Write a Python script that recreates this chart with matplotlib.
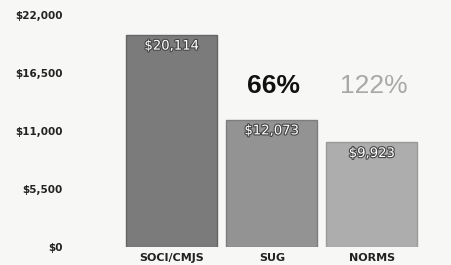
import matplotlib.pyplot as plt
import matplotlib.patheffects as pe
from matplotlib.ticker import FixedLocator, FuncFormatter
import matplotlib.transforms as mtransforms

# data
categories = ['SOCI/CMJS', 'SUG', 'NORMS']
values = [20114, 12073, 9923]
pct_labels = ['', '66%', '122%']
y_ticks = [0, 5500, 11000, 16500, 22000]

bar_colors = ['#7b7b7b', '#939393', '#adadad']
edge_colors = ['#666666', '#7d7d7d', '#999999']
pct_colors = ['#111111', '#111111', '#a8a8a8']
pct_weights = ['bold', 'bold', 'normal']

fig = plt.figure(figsize=(4.52, 2.65), dpi=100)
fig.patch.set_facecolor('#f7f7f5')
ax = fig.add_axes([0.181, 0.068, 0.819, 0.875])
ax.set_facecolor('none')

x = list(range(len(categories)))
ax.bar(x, values, width=0.91, color=bar_colors, edgecolor=edge_colors, linewidth=1.0)

ax.set_xlim(-0.9, 2.8)
ax.set_ylim(0, 22000)
ax.yaxis.set_major_locator(FixedLocator(y_ticks))
ax.yaxis.set_major_formatter(FuncFormatter(lambda v, p: f'${v:,.0f}'))
ax.set_xticks(x)
ax.set_xticklabels(categories)

for lab in ax.get_yticklabels():
    lab.set_fontweight('bold')
    lab.set_fontsize(7.5)
    lab.set_color('#222222')
for lab in ax.get_xticklabels():
    lab.set_fontweight('bold')
    lab.set_fontsize(8)
    lab.set_color('#222222')

ax.tick_params(axis='y', length=0, pad=14)
ax.tick_params(axis='x', length=0, pad=4)
for s in ax.spines.values():
    s.set_visible(False)

# value labels inside bars
for i, v in enumerate(values):
    ax.annotate(f'${v:,}', xy=(i, v), xytext=(0, -8), textcoords='offset points',
                ha='center', va='center', fontsize=9.5, color='white',
                path_effects=[pe.withStroke(linewidth=1.6, foreground='#444444')])

# percentage annotations
trans = mtransforms.blended_transform_factory(ax.transData, ax.transAxes)
for i, t in enumerate(pct_labels):
    if not t:
        continue
    ax.text(i + 0.02, 0.695, t, transform=trans, ha='center', va='center',
            fontsize=19, fontweight=pct_weights[i], color=pct_colors[i],
            family='Liberation Sans')

fig.savefig('out.png', dpi=100, facecolor=fig.get_facecolor())
